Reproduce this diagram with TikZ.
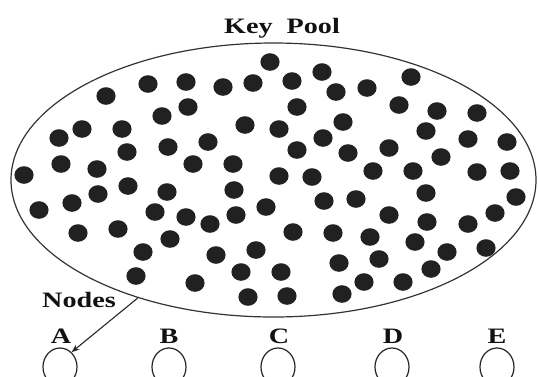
\documentclass[tikz,border=0pt]{standalone}
\usepackage{fontspec}
\setmainfont{Liberation Serif}
\usetikzlibrary{shapes.geometric,arrows.meta}

\tikzset{
  poolline/.style={draw=black!80, line width=1.2pt},
  keydot/.style={fill=black!87},
  label/.style={font=\bfseries\fontsize{22}{24}\selectfont, text=black!93, inner sep=0pt, anchor=base},
  nodecircle/.style={draw=black!85, line width=1.2pt, ellipse, inner sep=0pt,
                     minimum width=34pt, minimum height=38pt},
  pointer/.style={draw=black!85, line width=1.1pt, -{Stealth[length=8pt,width=6pt]}}
}
% stretch text horizontally
\newcommand{\wide}[1]{\scalebox{1.28}[1]{#1}}

\begin{document}
\begin{tikzpicture}[x=1pt,y=-1pt]
  \useasboundingbox (0,0) rectangle (538,376);
  \clip (0,0) rectangle (538,376);

  % the key pool
  \node[poolline, ellipse, inner sep=0pt, minimum width=525pt, minimum height=274pt] (pool) at (273.5,180) {};
  \node[label] (title) at (282,33) {\wide{Key\ \ Pool}};

  % keys in the pool
  \foreach \px/\py in {
    270/62, 322/72, 411/77, 292/81, 186/82, 253/83, 148/84, 223/87, 367/88, 336/92,
    106/96, 399/105, 188/107, 297/107, 437/111, 477/113, 162/116, 343/122, 245/125,
    82/129, 122/129, 279/129, 426/131, 323/138, 59/138, 468/139, 208/142, 507/142,
    168/147, 389/148, 297/150, 127/152, 348/153, 441/157, 61/164, 193/164, 233/164,
    97/169, 373/171, 413/171, 477/172, 510/171, 24/175, 279/176, 312/177, 128/186,
    167/192, 234/190, 426/193, 98/194, 324/201, 356/199, 516/197, 72/203, 266/207,
    39/210, 155/212, 495/213, 236/215, 186/217, 389/215, 210/224, 427/222, 468/224,
    118/229, 78/233, 293/232, 333/233, 370/237, 170/239, 415/242, 486/248, 256/250,
    143/252, 447/252, 216/255, 379/259, 339/263, 431/269, 241/272, 281/272, 136/276,
    364/282, 403/282, 195/283, 342/294, 287/296, 248/297}
    \fill[keydot] (\px,\py) ellipse [x radius=9.6pt, y radius=8.8pt];

  % sensor nodes
  \node[label] (lblA) at (61,343) {\wide{A}};
  \node[label] (lblB) at (169,343) {\wide{B}};
  \node[label] (lblC) at (279,343) {\wide{C}};
  \node[label] (lblD) at (393,343) {\wide{D}};
  \node[label] (lblE) at (497,343) {\wide{E}};

  \node[nodecircle] (a) at (60,367) {};
  \node[nodecircle] (b) at (169,367) {};
  \node[nodecircle] (c) at (278,367) {};
  \node[nodecircle] (d) at (392,367) {};
  \node[nodecircle] (e) at (497,367) {};

  \node[label] (nodes) at (79,307) {\wide{Nodes}};
  \draw[pointer] (pool.221) -- (a.52);
\end{tikzpicture}
\end{document}
